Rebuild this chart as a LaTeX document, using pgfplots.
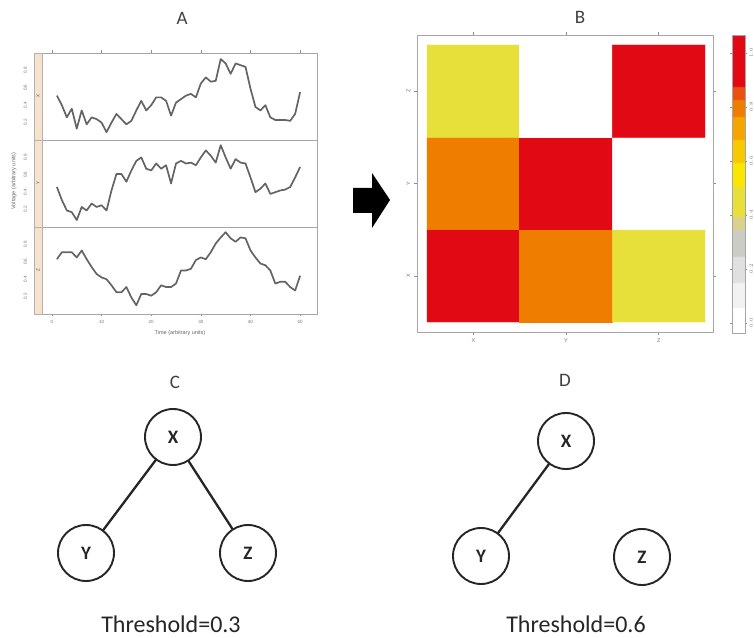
\documentclass[border=0pt]{standalone}
\usepackage{fontspec}
\setmainfont{Carlito}
\newfontfamily\rfont{Liberation Sans}
\usepackage{pgfplots}
\pgfplotsset{compat=1.18}
\usepackage{pgfplotstable}

\pgfplotstableread{
t x y z
1 0.51 0.46 0.63
2 0.40 0.31 0.71
3 0.26 0.19 0.71
4 0.36 0.17 0.71
5 0.13 0.08 0.65
6 0.34 0.23 0.73
7 0.18 0.19 0.63
8 0.26 0.27 0.54
9 0.24 0.23 0.46
10 0.20 0.25 0.42
11 0.09 0.19 0.40
12 0.20 0.42 0.33
13 0.30 0.61 0.25
14 0.24 0.61 0.25
15 0.18 0.52 0.31
16 0.22 0.65 0.19
17 0.34 0.76 0.10
18 0.45 0.80 0.23
19 0.34 0.67 0.23
20 0.40 0.65 0.21
21 0.49 0.73 0.25
22 0.49 0.67 0.33
23 0.45 0.71 0.31
24 0.28 0.50 0.31
25 0.43 0.73 0.35
26 0.47 0.76 0.50
27 0.51 0.73 0.50
28 0.53 0.74 0.52
29 0.49 0.71 0.62
30 0.65 0.80 0.65
31 0.72 0.88 0.63
32 0.67 0.82 0.71
33 0.68 0.74 0.81
34 0.93 0.94 0.88
35 0.88 0.80 0.94
36 0.76 0.67 0.87
37 0.88 0.78 0.83
38 0.86 0.74 0.88
39 0.84 0.73 0.87
40 0.59 0.57 0.73
41 0.38 0.40 0.65
42 0.34 0.44 0.58
43 0.40 0.50 0.56
44 0.26 0.38 0.50
45 0.23 0.40 0.35
46 0.23 0.42 0.37
47 0.23 0.43 0.37
48 0.22 0.46 0.31
49 0.30 0.57 0.27
50 0.55 0.69 0.44
}\voltdata

\pgfplotstableread{
col row r
1 1 1.00
2 1 0.79
3 1 0.45
1 2 0.79
2 2 1.00
3 2 0.03
1 3 0.45
2 3 0.03
3 3 1.00
}\cordata

\pgfplotstableread{
x y lab
173 200 X
86 84 Y
248 84 Z
566 196 X
481 81 Y
642 80 Z
}\nodedata

\definecolor{stripc}{RGB}{247,226,204}
\definecolor{linec}{RGB}{100,100,100}

\pgfplotsset{
  panelA/.style={
    scale only axis, width=275pt, height=87pt, anchor=south west,
    xmin=-2, xmax=53.4, ymin=0, ymax=1,
    axis line style={black!35, line width=0.7pt},
    tick style={black!45, line width=0.5pt},
    tick align=outside, major tick length=2.5pt,
    ytick={0.2,0.4,0.6,0.8}, ytick pos=left,
    yticklabel style={xshift=-9pt, rotate=90, anchor=south, font=\rfont\fontsize{4.5}{5}\selectfont, text=black!55},
    xtick={0,10,20,30,40,50},
    xticklabel style={font=\rfont\fontsize{4.5}{5}\selectfont, text=black!55},
    /pgf/number format/assume math mode=true,
    clip=true,
  },
  vline/.style={line width=1.7pt, color=linec, line join=round, mark=none},
}

\begin{document}
\begin{tikzpicture}
\path[use as bounding box] (0pt,0pt) rectangle (754pt,637pt);

% ---------- Panel A ----------
\begin{axis}[panelA, at={(42pt,497pt)}, xtick pos=right, xticklabels={}]
\addplot[vline] table[x=t, y=x] {\voltdata};
\end{axis}
\begin{axis}[panelA, at={(42pt,410pt)}, xtick=\empty]
\addplot[vline] table[x=t, y=y] {\voltdata};
\end{axis}
\begin{axis}[panelA, at={(42pt,323pt)}, xtick pos=left]
\addplot[vline] table[x=t, y=z] {\voltdata};
\end{axis}
\fill[stripc] (34pt,323pt) rectangle (42pt,584pt);
\draw[black!30, line width=0.6pt] (34pt,323pt) rectangle (42pt,584pt);
\draw[black!30, line width=0.6pt] (34pt,410pt) -- (42pt,410pt);
\draw[black!30, line width=0.6pt] (34pt,497pt) -- (42pt,497pt);
\node[rotate=90, font=\rfont\fontsize{4.5}{5}\selectfont, text=black!70] at (38pt,540.5pt) {X};
\node[rotate=90, font=\rfont\fontsize{4.5}{5}\selectfont, text=black!70] at (38pt,453.5pt) {Y};
\node[rotate=90, font=\rfont\fontsize{4.5}{5}\selectfont, text=black!70] at (38pt,366.5pt) {Z};
\node[rotate=90, font=\rfont\fontsize{5.5}{6}\selectfont, text=black!60] at (14pt,456pt) {Voltage (arbitrary units)};
\node[font=\rfont\fontsize{5.5}{6}\selectfont, text=black!60] at (180pt,304pt) {Time (arbitrary units)};
\node[font=\fontsize{19}{21}\selectfont, text=black!75] at (182pt,619pt) {A};

% ---------- Arrow ----------
\fill[black] (353pt,449pt) -- (372pt,449pt) -- (372pt,464pt) -- (390pt,437pt) -- (372pt,409pt) -- (372pt,424pt) -- (353pt,424pt) -- cycle;

% ---------- Panel B ----------
\begin{axis}[
  scale only axis, width=296pt, height=297pt, at={(417pt,305pt)}, anchor=south west,
  xmin=0.392, xmax=3.586, ymin=0.392, ymax=3.608,
  xtick={1,2,3}, xticklabels={X,Y,Z}, ytick={1,2,3}, yticklabels={X,Y,Z},
  tick align=outside, major tick length=3pt,
  axis line style={black!35, line width=0.8pt}, tick style={black!45, line width=0.5pt},
  ticklabel style={font=\rfont\fontsize{5.5}{6}\selectfont, text=black!55},
  yticklabel style={rotate=90, anchor=south},
  colormap={heat}{[1pt]
    rgb255(0pt)=(255,255,255) rgb255(25pt)=(255,255,255)
    rgb255(26pt)=(242,242,242) rgb255(50pt)=(242,242,242)
    rgb255(51pt)=(224,224,224) rgb255(76pt)=(224,224,224)
    rgb255(77pt)=(204,204,198) rgb255(103pt)=(204,204,198)
    rgb255(104pt)=(218,210,140) rgb255(116pt)=(218,210,140)
    rgb255(117pt)=(232,224,58) rgb255(146pt)=(232,224,58)
    rgb255(147pt)=(250,230,0) rgb255(170pt)=(250,230,0)
    rgb255(171pt)=(248,200,0) rgb255(193pt)=(248,200,0)
    rgb255(194pt)=(245,165,0) rgb255(216pt)=(245,165,0)
    rgb255(217pt)=(238,125,0) rgb255(233pt)=(238,125,0)
    rgb255(234pt)=(234,80,15) rgb255(246pt)=(234,80,15)
    rgb255(247pt)=(225,10,20) rgb255(298pt)=(225,10,20)
  },
  point meta min=-0.037, point meta max=1.0667,
  colorbar,
  colorbar style={
    scale only axis, width=13pt, height=298pt,
    at={(parent axis.north east)}, anchor=north west, xshift=10.5pt,
    axis line style={black!35, line width=0.8pt}, tick style={black!45, line width=0.5pt},
    tick align=outside, major tick length=1.8pt,
    ytick={0,0.2,0.4,0.6,0.8,1},
    yticklabel style={xshift=2.5pt, rotate=90, anchor=north, inner sep=0.2pt, font=\rfont\fontsize{3.5}{4}\selectfont, text=black!55, /pgf/number format/fixed, /pgf/number format/precision=1, /pgf/number format/fixed zerofill},
  },
]
\addplot[matrix plot*, mesh/cols=3, point meta=explicit] table[x=col, y=row, meta=r] {\cordata};
\end{axis}
\node[font=\fontsize{19}{21}\selectfont, text=black!75] at (580pt,620pt) {B};

% ---------- Panels C and D ----------
\begin{axis}[
  scale only axis, width=754pt, height=637pt, at={(0pt,0pt)}, anchor=south west,
  xmin=0, xmax=754, ymin=0, ymax=637, hide axis, clip=false,
]
\addplot[line width=2.3pt, color=black!85, mark=none] coordinates {(173,200) (86,84)};
\addplot[line width=2.3pt, color=black!85, mark=none] coordinates {(173,200) (248,84)};
\addplot[line width=2.3pt, color=black!85, mark=none] coordinates {(566,196) (481,81)};
\addplot[only marks, mark=*, mark size=28pt,
  mark options={fill=white, draw=black!85, line width=1.9pt},
  nodes near coords, point meta=explicit symbolic,
  every node near coord/.append style={anchor=center, font=\bfseries\fontsize{19}{21}\selectfont, text=black!85},
] table[x=x, y=y, meta=lab] {\nodedata};
\end{axis}
\node[font=\fontsize{19}{21}\selectfont, text=black!75] at (175pt,255pt) {C};
\node[font=\fontsize{19}{21}\selectfont, text=black!75] at (565pt,257pt) {D};
\node[font=\fontsize{24}{26}\selectfont, text=black!85, anchor=base] at (171pt,5pt) {Threshold=0.3};
\node[font=\fontsize{24}{26}\selectfont, text=black!85, anchor=base] at (576pt,5pt) {Threshold=0.6};
\end{tikzpicture}
\end{document}
